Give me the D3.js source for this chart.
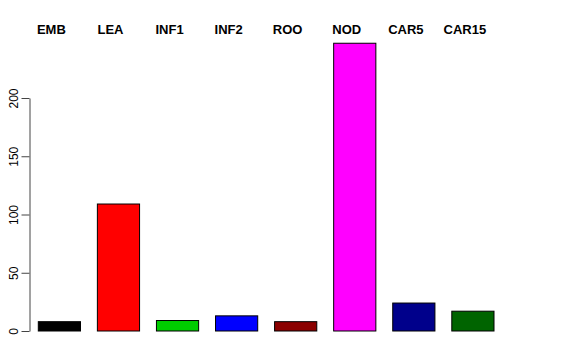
<!DOCTYPE html>
<html>
<head>
  <meta charset="UTF-8">
  <script src="https://d3js.org/d3.v7.min.js"></script>
  <style>
    body { margin: 0; background: #fff; }
    svg { display: block; font-family: "Liberation Sans", Arial, sans-serif; }
    .y-axis text { font-size: 12px; fill: #000; }
    .y-axis path, .y-axis line { stroke: #444; }
    .lab { font-size: 13px; font-weight: bold; fill: #000; }
  </style>
</head>
<body>
  <svg id="chart" width="576" height="360"></svg>
  <script>
    // données
    const categories = ["EMB", "LEA", "INF1", "INF2", "ROO", "NOD", "CAR5", "CAR15"];
    const values = [8, 109, 9, 13, 8, 247, 24, 17];
    const colors = ["#000000", "#ff0000", "#00cd00", "#0000ff", "#8b0000", "#ff00ff", "#00008b", "#006400"];
    const yTicks = [0, 50, 100, 150, 200];

    const svg = d3.select("#chart");

    const x = d3.scaleBand()
      .domain(categories)
      .range([38.3, 494])
      .paddingInner(0.4 / 1.4)
      .paddingOuter(0);

    const y = d3.scaleLinear().domain([0, 200]).range([331, 98]);

    // barres
    svg.selectAll("rect.bar")
      .data(categories)
      .join("rect")
      .attr("class", "bar")
      .attr("x", d => x(d))
      .attr("width", x.bandwidth())
      .attr("y", (d, i) => y(values[i]))
      .attr("height", (d, i) => y(0) - y(values[i]))
      .attr("fill", (d, i) => colors[i])
      .attr("stroke", "#000")
      .attr("stroke-width", 1);

    // axe y
    const yAxis = svg.append("g")
      .attr("class", "y-axis")
      .attr("transform", "translate(29.5,0)")
      .call(d3.axisLeft(y).tickValues(yTicks).tickSize(8).tickSizeOuter(0).tickPadding(0));

    // libellés tournés de 90°
    yAxis.selectAll("text")
      .attr("transform", "translate(-12,0) rotate(-90)")
      .attr("x", 0).attr("y", 0).attr("dy", "0")
      .attr("text-anchor", "middle");

    // étiquettes en haut
    svg.selectAll("text.lab")
      .data(categories)
      .join("text")
      .attr("class", "lab")
      .attr("x", d => x(d) + x.bandwidth() / 2 - 8)
      .attr("y", 34)
      .attr("text-anchor", "middle")
      .text(d => d);
  </script>
</body>
</html>
